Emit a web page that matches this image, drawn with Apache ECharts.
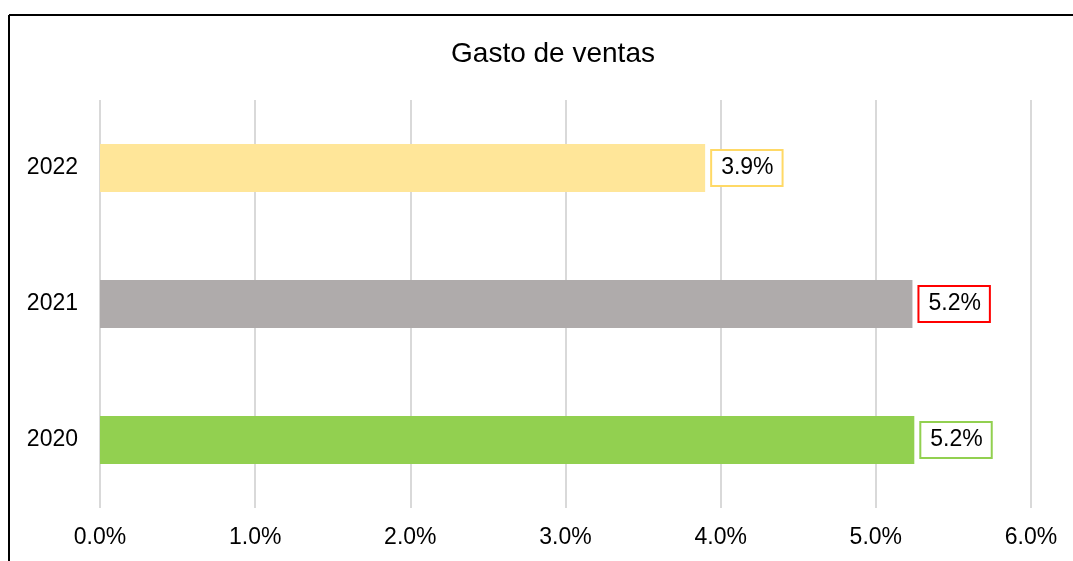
<!DOCTYPE html>
<html>
<head>
<meta charset="utf-8">
<script src="https://cdn.jsdelivr.net/npm/echarts@6/dist/echarts.min.js"></script>
<style>
html,body{margin:0;padding:0;background:#fff;}
#chart{width:1073px;height:561px;}
</style>
</head>
<body>
<div id="chart"></div>
<script>
const titleText = 'Gasto de ventas';
const categories = ['2020', '2021', '2022'];
const values = [5.248, 5.236, 3.9];
const barColors = ['#92D050', '#AFABAB', '#FFE699'];
const labelBorderColors = ['#92D050', '#FF0000', '#FFD966'];
const xTicks = [0, 1, 2, 3, 4, 5, 6];

const FONT = '"Liberation Sans", Arial, sans-serif';
const chart = echarts.init(document.getElementById('chart'), null, {renderer: 'canvas'});

const data = values.map((v, i) => ({
  value: v,
  itemStyle: {color: barColors[i]},
  label: {borderColor: labelBorderColors[i]}
}));

chart.setOption({
  animation: false,
  backgroundColor: '#fff',
  title: {
    text: titleText,
    left: 548,
    top: 35,
    textAlign: 'center',
    textStyle: {fontFamily: FONT, fontSize: 28, fontWeight: 'normal', color: '#000'}
  },
  graphic: [
    {type: 'line', shape: {x1: 9, y1: 15, x2: 1073, y2: 15}, style: {stroke: '#000', lineWidth: 2}, silent: true},
    {type: 'line', shape: {x1: 9, y1: 15, x2: 9, y2: 561}, style: {stroke: '#000', lineWidth: 2}, silent: true}
  ],
  grid: {left: 100, right: 42, top: 100, bottom: 53, containLabel: false},
  xAxis: {
    type: 'value',
    min: xTicks[0],
    max: xTicks[xTicks.length - 1],
    interval: 1,
    axisLine: {show: false},
    axisTick: {show: false},
    splitLine: {show: true, lineStyle: {color: '#D9D9D9', width: 2}},
    axisLabel: {
      margin: 18,
      fontFamily: FONT, fontSize: 23, color: '#000',
      formatter: v => v.toFixed(1) + '%'
    }
  },
  yAxis: {
    type: 'category',
    data: categories,
    axisLine: {show: false},
    axisTick: {show: false},
    splitLine: {show: false},
    axisLabel: {margin: 22, fontFamily: FONT, fontSize: 23, color: '#000', padding: [4, 0, 0, 0]}
  },
  series: [{
    type: 'bar',
    data: data,
    barWidth: 48,
    label: {
      show: true,
      position: 'right',
      distance: 7,
      fontFamily: FONT,
      fontSize: 23,
      color: '#000',
      backgroundColor: '#fff',
      borderWidth: 2,
      padding: [6, 8, 5, 9],
      formatter: p => p.value.toFixed(1) + '%'
    }
  }]
});
</script>
</body>
</html>
